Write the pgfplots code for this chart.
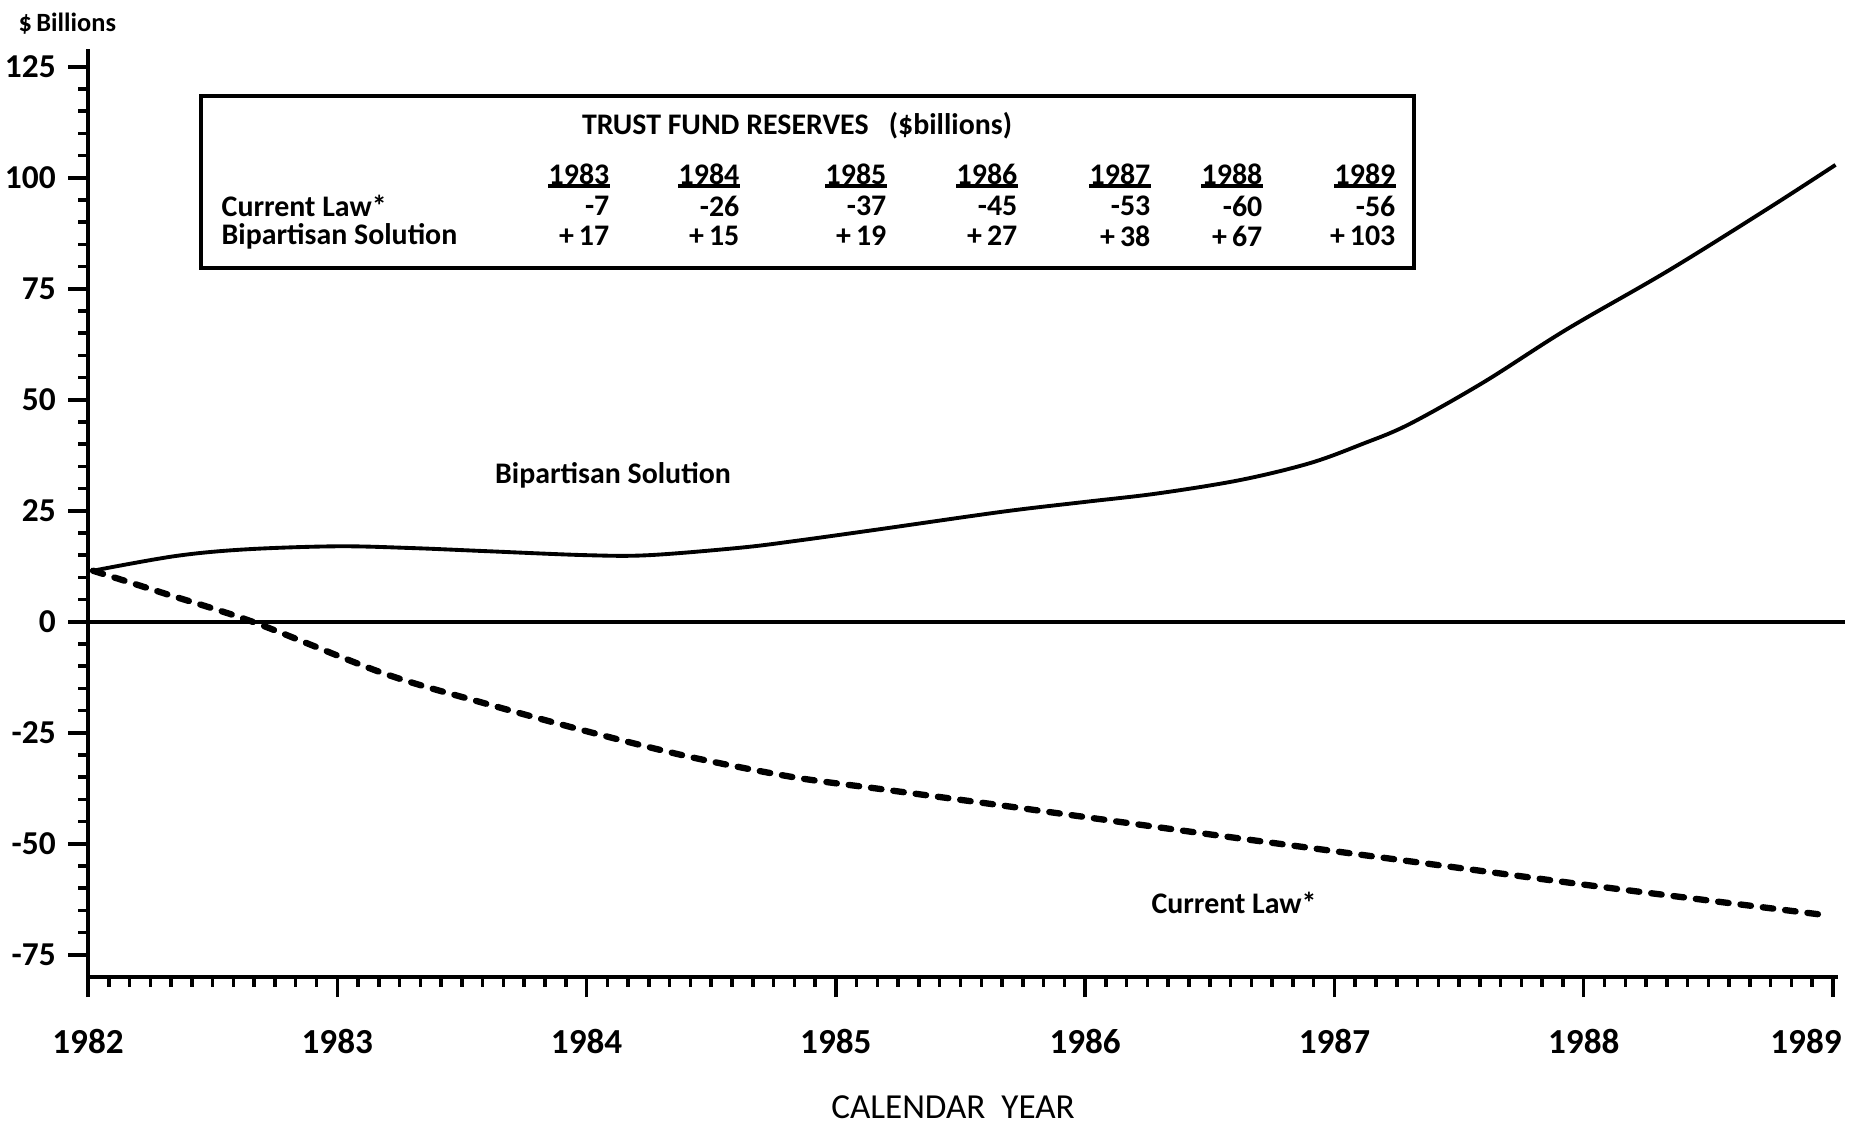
\documentclass[border=0pt]{standalone}
\usepackage{fontspec}
\setmainfont{Carlito}
\usepackage{pgfplots}
\pgfplotsset{compat=1.18}
\begin{document}
\begin{tikzpicture}[x=1cm,y=1cm]
\path[use as bounding box] (0,0) rectangle (18.56,11.23);
\begin{axis}[
  at={(0.88cm,1.46cm)}, anchor=south west,
  scale only axis, width=17.5cm, height=9.28cm,
  xmin=1982, xmax=1989.02, ymin=-80, ymax=129,
  axis x line*=bottom, axis y line*=left,
  axis line style={line width=1pt},
  xtick={1982,1983,1984,1985,1986,1987,1988,1989},
  xticklabels={1982,1983,1984,1985,1986,1987,1988,{\makebox[0pt][c]{\hspace*{-0.54cm}1989}}},
  minor x tick num=11,
  ytick={-75,-50,-25,0,25,50,75,100,125},
  yticklabels={-75,-50,-25,0,25,50,75,100,125},
  minor y tick num=4,
  tick align=outside,
  major tick length=0.2cm, minor tick length=0.1cm,
  every tick/.style={black, line width=1pt},
  xticklabel style={font=\bfseries\fontsize{10}{12}\selectfont, yshift=-0.2cm},
  yticklabel style={font=\bfseries\fontsize{9.5}{11}\selectfont},
  clip=false,
]
\addplot[black, line width=1.1pt] coordinates {(1982,0) (1989.05,0)};
\addplot[black, line width=1.1pt, smooth, tension=0.55] coordinates {
(1982.02,11.5) (1982.35,14.8) (1982.63,16.3) (1983.00,17.0) (1983.30,16.6)
(1983.60,15.9) (1984.00,15.0) (1984.25,15.0) (1984.62,16.7) (1984.85,18.3)
(1985.17,20.8) (1985.67,24.8) (1986.00,27.0) (1986.29,28.9) (1986.62,31.9)
(1986.90,35.7) (1987.11,40.0) (1987.30,44.5) (1987.60,54.0) (1987.93,65.8)
(1988.34,79.1) (1988.74,93.1) (1989.01,102.9)
};
\addplot[black, line width=1.8pt, line cap=round, dash pattern=on 3pt off 3.4pt, smooth, tension=0.5] coordinates {
(1982.02,11.5) (1982.30,6.5) (1982.66,0) (1983.19,-11.7) (1983.60,-18.5)
(1984.01,-24.8) (1984.42,-30.5) (1984.83,-35.0) (1985.17,-37.6) (1985.67,-41.4)
(1986.49,-47.8) (1987.31,-54.0) (1988.07,-59.7) (1988.96,-66.0)
};
\end{axis}
% labels
\node[anchor=west, font=\bfseries\fontsize{7.5}{9}\selectfont, inner sep=0pt] at (0.18,10.99) {\$\,Billions};
\node[font=\fontsize{10}{12}\selectfont, inner sep=0pt] at (9.53,0.16) {CALENDAR\ \ YEAR};
\node[font=\bfseries\fontsize{8.5}{10}\selectfont, inner sep=0pt] at (6.13,6.48) {Bipartisan Solution};
\node[font=\bfseries\fontsize{8.5}{10}\selectfont, inner sep=0pt] at (12.34,2.20) {Current Law*};
% table box
\draw[line width=1.2pt] (2.01,10.27) rectangle (14.14,8.55);
\begin{scope}[every node/.style={font=\bfseries\fontsize{8.5}{10}\selectfont, inner sep=0pt}]
\node at (7.97,9.97) {TRUST FUND RESERVES\ \ \ (\$billions)};
\node[anchor=west] at (2.21,9.17) {Current Law*};
\node[anchor=west] at (2.21,8.87) {Bipartisan Solution};
\foreach \x/\yr/\cl/\bs in {6.10/1983/-7/+\,17, 7.40/1984/-26/+\,15, 8.87/1985/-37/+\,19, 10.18/1986/-45/+\,27, 11.51/1987/-53/+\,38, 12.63/1988/-60/+\,67, 13.96/1989/-56/+\,103}{
  \node[anchor=east] (y\yr) at (\x,9.49) {\yr};
  \draw[line width=0.9pt] (y\yr.west |- 0,9.37) -- (y\yr.east |- 0,9.37);
  \node[anchor=east] at (\x,9.17) {\cl};
  \node[anchor=east] at (\x,8.87) {\bs};
}
\end{scope}
\end{tikzpicture}
\end{document}
